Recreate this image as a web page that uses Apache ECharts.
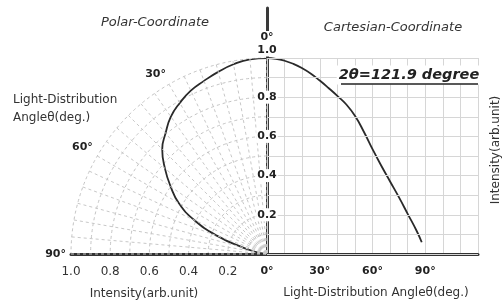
<!DOCTYPE html>
<html><head><meta charset="utf-8">
<script src="https://cdn.jsdelivr.net/npm/echarts@6/dist/echarts.min.js"></script>
<style>html,body{margin:0;padding:0;background:#fff}#c{width:503px;height:304px}</style>
</head><body><div id="c"></div>
<script>
// Cartesian curve: light-distribution angle (deg) vs relative intensity
const angles = [0, 5, 10, 15, 20, 25, 30, 35, 40, 45, 50, 55, 60, 65, 70, 75, 80, 85, 88];
const intensity = [1.0, 0.996, 0.986, 0.970, 0.948, 0.920, 0.885, 0.847, 0.807, 0.764, 0.705, 0.625, 0.535, 0.45, 0.37, 0.29, 0.205, 0.12, 0.06];
// Polar curve as drawn in the reference (angle deg, radius)
const polarAngles = [0, 5, 10, 15, 20, 25, 30, 35, 40, 45, 50, 55, 60, 65, 70, 75, 80, 85];
const polarIntensity = [1.0, 0.997, 0.983, 0.962, 0.94, 0.92, 0.89, 0.855, 0.805, 0.756, 0.68, 0.60, 0.52, 0.41, 0.27, 0.13, 0.05, 0.015];
const angleTickLabels = [0, 30, 60, 90];
const intensityTickLabels = [0.2, 0.4, 0.6, 0.8, 1.0];
const fwhmText = '2θ=121.9 degree';

const FONT = 'DejaVu Sans';
const cx = 267, cy = 254, R = 196;
const chart = echarts.init(document.getElementById('c'));

const isIntTick = v => intensityTickLabels.some(t => Math.abs(t - v) < 1e-6);
const isAngTick = v => angleTickLabels.some(t => Math.abs(t - v) < 1e-6);
const boldTok = {backgroundColor: '#fff', fontFamily: FONT, fontSize: 11, fontWeight: 'bold', color: '#222', padding: [1, 1]};

const txt = (x, y, text, extra) => Object.assign({
  type: 'text', x: x, y: y, silent: true,
  style: Object.assign({text: text, fontFamily: FONT, fontSize: 12, fill: '#333', align: 'center', verticalAlign: 'middle'}, extra || {})
});

chart.setOption({
  animation: false,
  backgroundColor: '#fff',
  polar: {center: [cx, cy], radius: R},
  angleAxis: {
    type: 'value', min: 0, max: 90, interval: 5, startAngle: 90, endAngle: 180, clockwise: false, z: 4,
    axisLine: {show: false}, axisTick: {show: false},
    axisLabel: {
      margin: 4,
      formatter: v => v === 0 ? '{w|0°}\n{s| }' : (isAngTick(v) ? '{w|' + v + '°}' : ''),
      rich: {w: boldTok, s: {lineHeight: 10, fontSize: 1}}
    },
    splitLine: {lineStyle: {color: '#c8c8c8', type: [3, 3], width: 1}}
  },
  radiusAxis: {
    type: 'value', min: 0, max: 1, interval: 0.1,
    axisLine: {show: false}, axisTick: {show: false}, axisLabel: {show: false},
    splitLine: {lineStyle: {color: '#c4c4c4', type: [3, 3], width: 1}}
  },
  grid: [
    {left: cx, top: cy - R, width: 211, height: R},
    {left: cx - R, top: cy - R, width: R, height: R},
    {left: cx, top: 8, width: 211, height: cy - 8}
  ],
  xAxis: [
    {gridIndex: 0, type: 'value', min: 0, max: 120, interval: 10, z: 3,
      axisLine: {lineStyle: {color: '#333', width: 3}}, axisTick: {show: false},
      axisLabel: {margin: 12, fontFamily: FONT, fontSize: 11, fontWeight: 'bold', color: '#222',
        formatter: v => isAngTick(v) ? v + '°' : ''},
      splitLine: {lineStyle: {color: '#d6d6d6', width: 1}}},
    {gridIndex: 1, type: 'value', min: 0, max: 1, interval: 0.2, inverse: true, z: 3,
      axisLine: {lineStyle: {color: '#333', width: 3}}, axisTick: {show: false},
      axisLabel: {margin: 12, fontFamily: FONT, fontSize: 12, color: '#333',
        formatter: v => isIntTick(v) ? v.toFixed(1) : ''},
      splitLine: {show: false}},
    {gridIndex: 2, type: 'value', show: false}
  ],
  yAxis: [
    {gridIndex: 0, type: 'value', min: 0, max: 1, interval: 0.1, z: 4,
      axisLine: {show: false}, axisTick: {show: false},
      axisLabel: {margin: 0, align: 'center',
        formatter: v => {
          if (!isIntTick(v)) return '';
          const s = v.toFixed(1);
          return Math.abs(v - 1) < 1e-6 ? '{w|' + s + '}\n{s| }' : '{w|' + s + '}';
        },
        rich: {w: boldTok, s: {lineHeight: 16, fontSize: 1}}},
      splitLine: {lineStyle: {color: '#d6d6d6', width: 1}}},
    {gridIndex: 1, type: 'value', min: 0, max: 1, show: false},
    {gridIndex: 2, type: 'value', min: 0, max: 1, z: 1,
      axisLine: {show: true, lineStyle: {color: '#3a3a3a', width: 3}},
      axisTick: {show: false}, axisLabel: {show: false}, splitLine: {show: false}}
  ],
  series: [
    {type: 'line', coordinateSystem: 'polar', showSymbol: false, smooth: 0.5, z: 3,
      lineStyle: {color: '#2a2a2a', width: 1.8},
      data: polarAngles.map((a, i) => [polarIntensity[i], a])},
    {type: 'line', xAxisIndex: 0, yAxisIndex: 0, showSymbol: false, smooth: 0.5, z: 3,
      lineStyle: {color: '#2a2a2a', width: 1.8},
      data: angles.map((a, i) => [a, intensity[i]])}
  ],
  graphic: [
    txt(155, 23, 'Polar-Coordinate', {fontStyle: 'italic', fontSize: 13}),
    txt(393, 28, 'Cartesian-Coordinate', {fontStyle: 'italic', fontSize: 13}),
    Object.assign(txt(409, 75, fwhmText, {fontStyle: 'italic', fontWeight: 'bold', fontSize: 14.5, fill: '#222',
      backgroundColor: '#fff', padding: [2, 2]}), {z: 10}),
    {type: 'line', silent: true, z: 11, shape: {x1: 341, y1: 84, x2: 478, y2: 84}, style: {stroke: '#222', lineWidth: 1.5}},
    txt(13, 109, 'Light-Distribution\nAngleθ(deg.)', {align: 'left', lineHeight: 18}),
    txt(144, 294, 'Intensity(arb.unit)'),
    txt(376, 293, 'Light-Distribution Angleθ(deg.)'),
    Object.assign(txt(496, 150, 'Intensity(arb.unit)'), {rotation: Math.PI / 2})
  ]
});
</script></body></html>
